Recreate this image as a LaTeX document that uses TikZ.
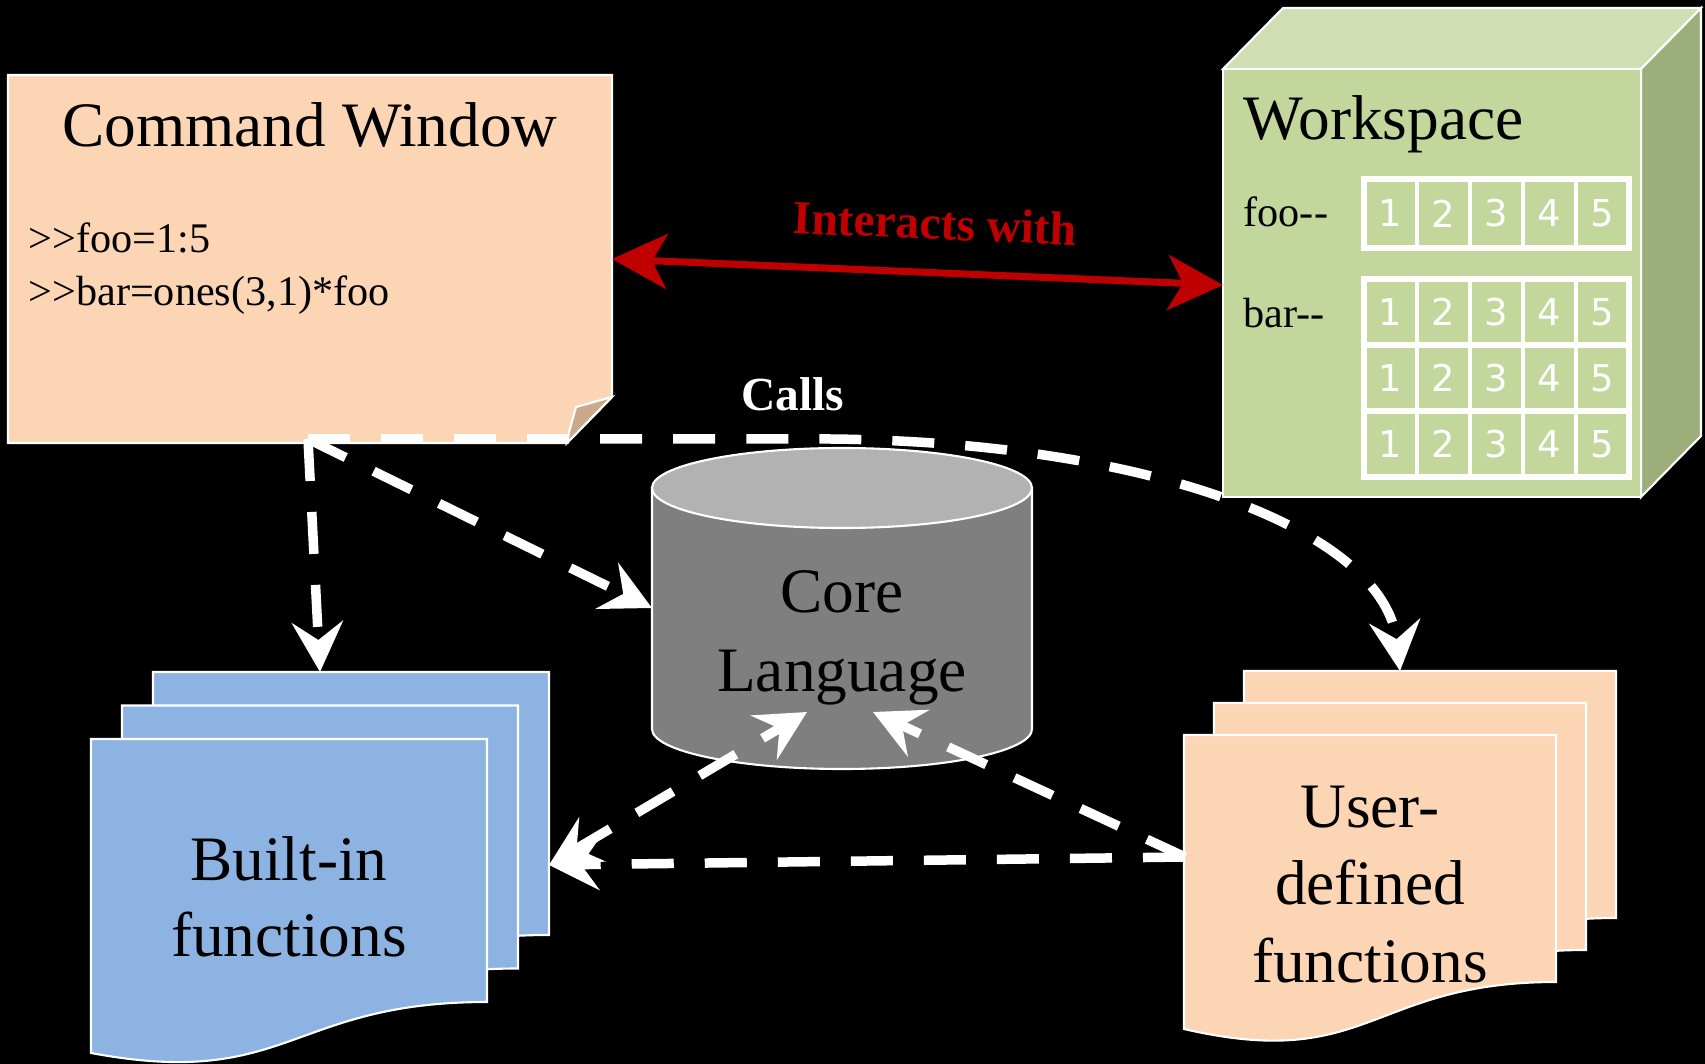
\documentclass[tikz,border=0pt]{standalone}
\usepackage{fontspec}
\setmainfont{Liberation Serif}
\newfontfamily\cellfont{DejaVu Sans}
\usepackage{tikz}
\usetikzlibrary{arrows.meta}
\usetikzlibrary{calc}
\definecolor{peach}{HTML}{FCD5B5}
\definecolor{peachfold}{HTML}{CBA98C}
\definecolor{docblue}{HTML}{8DB3E2}
\definecolor{wsfront}{HTML}{C3D69B}
\definecolor{wstop}{HTML}{D0DFB3}
\definecolor{wsside}{HTML}{9CAF7B}
\definecolor{coretop}{HTML}{B2B2B2}
\definecolor{corebody}{HTML}{7F7F7F}
\definecolor{darkred}{HTML}{C00000}

\begin{document}
\begin{tikzpicture}[x=0.01cm, y=-0.01cm, >={Stealth[length=0.5cm,width=0.51cm,inset=0.18cm]}]
	\tikzstyle{outline}=[draw=white, line width=0.6pt]
	\tikzstyle{bigtext}=[inner sep=0pt, font=\fontsize{18}{22}\selectfont]
	\tikzstyle{smalltext}=[inner sep=0pt, font=\fontsize{12}{15}\selectfont]
	\tikzstyle{calltext}=[inner sep=0pt, font=\fontsize{13.5}{16}\selectfont\bfseries]
	\tikzstyle{cell}=[draw=white, line width=1pt, minimum width=0.53cm, minimum height=0.66cm, inner sep=0pt, text=white, font=\cellfont\fontsize{10.5}{12}\selectfont]
	\tikzstyle{dasharrow}=[white, line width=2.7pt, dash pattern=on 0.42cm off 0.31cm]
	%black page
	\useasboundingbox (0,0) rectangle (1705,1064);
	\fill[black] (0,0) rectangle (1705,1064);

	%%% COMMAND WINDOW %%%
	%page with folded corner
	\draw[outline, fill=peach] (8,75) -- (612,75) -- (612,397) -- (567,443) -- (8,443) -- cycle;
	%folded flap
	\draw[outline, fill=peachfold] (612,397) -- (576,407) -- (569,432) -- (567,443) -- cycle;
	\node[bigtext, anchor=base] (cmdtitle) at (310,147) {Command Window};
	\node[smalltext, anchor=base west] (cmdline1) at (28,253) {>\kern0pt>foo=1:5};
	\node[smalltext, anchor=base west] (cmdline2) at (28,306) {>\kern0pt>bar=ones(3,1)*foo};
	\coordinate (hub) at (308,439);
	\coordinate (cmdeast) at (612,259);

	%%% WORKSPACE CUBE %%%
	%top face
	\draw[outline, fill=wstop] (1223,69) -- (1283,8) -- (1701,8) -- (1641,69) -- cycle;
	%right face
	\draw[outline, fill=wsside] (1641,69) -- (1701,8) -- (1701,436) -- (1641,497) -- cycle;
	%front face
	\draw[outline, fill=wsfront] (1223,69) rectangle (1641,497);
	\node[bigtext, anchor=base west] (wstitle) at (1243,140) {Workspace};
	\node[smalltext, anchor=base west] (foolabel) at (1243,227) {foo-\kern0pt-};
	\node[smalltext, anchor=base west] (barlabel) at (1243,328) {bar-\kern0pt-};
	%foo array
	\foreach \i in {1,...,5}
		\node[cell, minimum height=0.69cm] (foo\i) at ({1364+53*\i-26.5},213.5) {\i};
	\draw[white, line width=1.7pt] (1364,179) rectangle (1629,248);
	%bar array, one box per row
	\foreach \row in {0,1,2} {
		\foreach \i in {1,...,5}
			\node[cell] (bar\row\i) at ({1364+53*\i-26.5},{312+66*\row}) {\i};
		\draw[white, line width=1.7pt] (1364,{279+66*\row}) rectangle (1629,{345+66*\row});
	}
	\coordinate (wswest) at (1223,285);

	%%% CORE LANGUAGE CYLINDER %%%
	%body
	\draw[outline, fill=corebody] (652,488) -- (652,729) arc[start angle=180, end angle=0, x radius=190, y radius=40] -- (1032,488) -- cycle;
	%top lid
	\draw[outline, fill=coretop] (842,488) ellipse[x radius=190, y radius=40];
	\node[bigtext, anchor=base] (corel1) at (842,613) {Core};
	\node[bigtext, anchor=base] (corel2) at (842,692) {Language};
	\coordinate (corew) at (652,608);
	\coordinate (corebl) at (807,712);
	\coordinate (corebr) at (873,712);

	%%% BUILT-IN STACK %%%
	\foreach \dx/\dy in {62/-67, 31/-33.5, 0/0}
		\draw[outline, fill=docblue, shift={(\dx,\dy)}] (91,739) -- (487,739) -- (487,1002) .. controls (289,1002) and (289,1090) .. (91,1053) -- cycle;
	\node[bigtext, anchor=base] (bil1) at (289,880) {Built-in};
	\node[bigtext, anchor=base] (bil2) at (289,957) {functions};
	\coordinate (bitop) at (320,672);
	\coordinate (bieast) at (549,865);

	%%% USER-DEFINED STACK %%%
	\foreach \dx/\dy in {60/-64, 30/-32, 0/0}
		\draw[outline, fill=peach, shift={(\dx,\dy)}] (1184,735) -- (1556,735) -- (1556,982) .. controls (1370,982) and (1370,1072) .. (1184,1029) -- cycle;
	\node[bigtext, anchor=base] (udl1) at (1370,828) {User-};
	\node[bigtext, anchor=base] (udl2) at (1370,905) {defined};
	\node[bigtext, anchor=base] (udl3) at (1370,982) {functions};
	\coordinate (udtop) at (1400,671);
	\coordinate (udwest) at (1185,857);

	%%% CONNECTORS %%%
	%interacts with
	\draw[darkred, line width=2pt, {Stealth[length=0.55cm,width=0.55cm,inset=0.15cm]}-{Stealth[length=0.55cm,width=0.55cm,inset=0.15cm]}] (cmdeast) -- (wswest);
	\node[calltext, text=darkred, rotate=-2.4] (interlabel) at (935,223) {Interacts with};
	%calls from the command window
	\draw[dasharrow, ->] (hub) -- (bitop);
	\draw[dasharrow, ->] (hub) -- (corew);
	\draw[dasharrow, ->] (hub) -- (830,439) .. controls (1150,442) and (1385,530) .. (udtop);
	\node[calltext, text=white] (callslabel) at (793,394) {Calls};
	%calls between function groups
	\draw[dasharrow, <->] (bieast) -- (corebl);
	\draw[dasharrow, ->] (udwest) -- (corebr);
	\draw[dasharrow, ->] (udwest) -- (bieast);
\end{tikzpicture}
\end{document}
